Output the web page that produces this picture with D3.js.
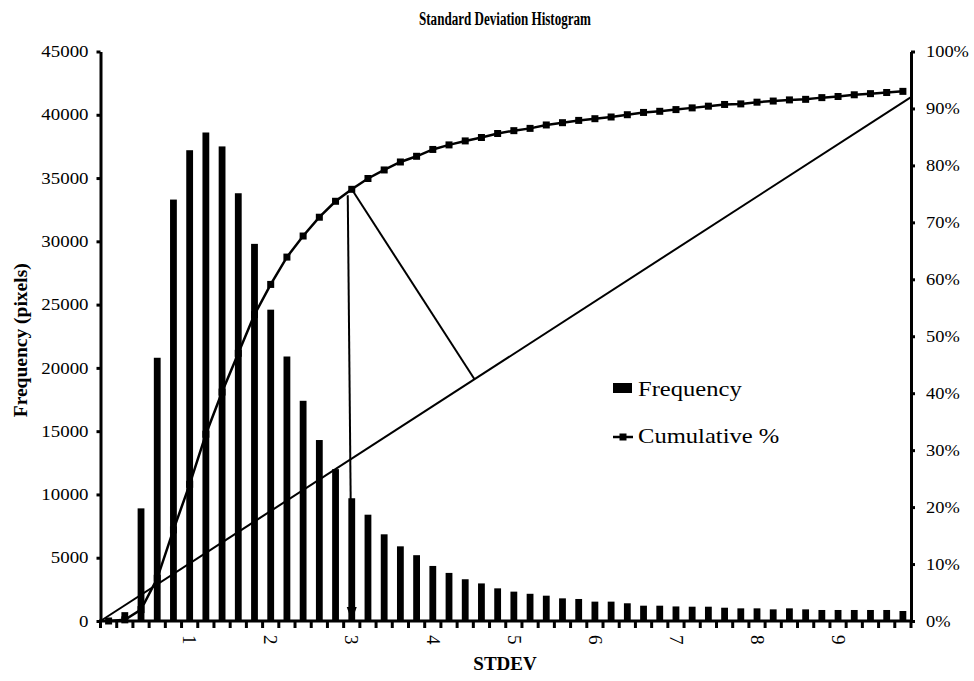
<!DOCTYPE html>
<html lang="en">
  <head>
    <meta charset="UTF-8" />
    <title>Standard Deviation Histogram</title>
    <script src="https://d3js.org/d3.v7.min.js"></script>
    <style>
      body {
        margin: 0;
        background: #fff;
      }
      svg text {
        font-family: "Liberation Serif", "Times New Roman", serif;
        fill: #000;
      }
    </style>
  </head>
  <body>
    <svg id="chart" width="974" height="681" font-family="Liberation Serif"></svg>
    <script>
      // histogram bins (STDEV), bar heights and cumulative %
      const bins = [
        0, 0.2, 0.4, 0.6, 0.8, 1, 1.2, 1.4, 1.6, 1.8,
        2, 2.2, 2.4, 2.6, 2.8, 3, 3.2, 3.4, 3.6, 3.8,
        4, 4.2, 4.4, 4.6, 4.8, 5, 5.2, 5.4, 5.6, 5.8,
        6, 6.2, 6.4, 6.6, 6.8, 7, 7.2, 7.4, 7.6, 7.8,
        8, 8.2, 8.4, 8.6, 8.8, 9, 9.2, 9.4, 9.6, 9.8
      ];
      const frequency = [
        0, 700, 8900, 20800, 33300, 37200, 38600, 37500, 33800, 29800,
        24600, 20900, 17400, 14300, 12000, 9700, 8400, 6850, 5900, 5200,
        4350, 3800, 3300, 2970, 2580, 2320, 2150, 2000, 1790, 1740,
        1530, 1530, 1400, 1210, 1210, 1150, 1130, 1130, 1050, 1000,
        1000, 920, 1000, 920, 870, 870, 870, 870, 870, 790
      ];
      const cumulative = [
        0, 0.2, 2.0, 7.5, 16.0, 24.0, 32.8, 40.2, 47.0, 53.8,
        59.1, 63.9, 67.6, 70.9, 73.7, 75.8, 77.7, 79.2, 80.6, 81.6,
        82.8, 83.6, 84.3, 84.9, 85.6, 86.1, 86.5, 87.1, 87.5, 87.9,
        88.2, 88.5, 88.9, 89.3, 89.5, 89.8, 90.1, 90.4, 90.7, 90.8,
        91.1, 91.3, 91.5, 91.6, 91.9, 92.1, 92.4, 92.6, 92.8, 93.0
      ];
      const xTickLabels = [1, 2, 3, 4, 5, 6, 7, 8, 9];
      const freqTicks = [0, 5000, 10000, 15000, 20000, 25000, 30000, 35000, 40000, 45000];
      const pctTicks = [0, 10, 20, 30, 40, 50, 60, 70, 80, 90, 100];

      // knee annotation: chord from origin to the right border, knee at STDEV 3
      const chordEndPct = 92;
      const kneeBin = 3;

      const plotLeft = 100.5, plotRight = 911, plotTop = 51.5, plotBottom = 621;
      const serif = "'Liberation Serif', 'Times New Roman', serif";

      const svg = d3.select("#chart");

      const x = d3.scaleBand()
        .domain(bins)
        .range([plotLeft, plotRight])
        .paddingInner(0.58)
        .paddingOuter(0.29);
      const yF = d3.scaleLinear().domain([0, 45000]).range([plotBottom, plotTop]);
      const yP = d3.scaleLinear().domain([0, 100]).range([plotBottom, plotTop]);
      const cx = d => x(d) + x.bandwidth() / 2;

      function stretch(sel, k) {
        sel.each(function() {
          const w = this.getComputedTextLength();
          d3.select(this)
            .attr("textLength", w * k)
            .attr("lengthAdjust", "spacingAndGlyphs");
        });
      }

      // title
      svg.append("text")
        .attr("x", 505)
        .attr("y", 25)
        .attr("text-anchor", "middle")
        .attr("font-family", serif)
        .attr("font-weight", "bold")
        .attr("font-size", 18)
        .attr("textLength", 172)
        .attr("lengthAdjust", "spacingAndGlyphs")
        .text("Standard Deviation Histogram");

      // bars
      svg.append("g")
        .selectAll("rect")
        .data(bins)
        .join("rect")
        .attr("x", d => x(d))
        .attr("width", x.bandwidth())
        .attr("y", (d, i) => yF(frequency[i]))
        .attr("height", (d, i) => plotBottom - yF(frequency[i]))
        .attr("fill", "#000");

      // annotation lines
      const ox = plotLeft, oy = yP(0);
      const ex = plotRight, ey = yP(chordEndPct);
      const ki = bins.indexOf(kneeBin);
      const kx = cx(kneeBin), ky = yP(cumulative[ki]);
      const dx = ex - ox, dy = ey - oy;
      const t = ((kx - ox) * dx + (ky - oy) * dy) / (dx * dx + dy * dy);
      const fx = ox + t * dx, fy = oy + t * dy;

      const ann = svg.append("g")
        .attr("stroke", "#000")
        .attr("stroke-width", 2)
        .attr("fill", "none");
      ann.append("line")
        .attr("x1", ox).attr("y1", oy)
        .attr("x2", ex).attr("y2", ey);
      ann.append("line")
        .attr("x1", kx).attr("y1", ky)
        .attr("x2", fx).attr("y2", fy);
      ann.append("line")
        .attr("x1", kx - 4).attr("y1", ky + 6)
        .attr("x2", kx).attr("y2", plotBottom - 10);
      svg.append("path")
        .attr("d", `M${kx - 5},${plotBottom - 14}L${kx + 5},${plotBottom - 14}L${kx},${plotBottom}Z`)
        .attr("fill", "#000");

      // cumulative line + markers
      const line = d3.line()
        .x((d, i) => cx(bins[i]))
        .y(d => yP(d));
      svg.append("path")
        .datum(cumulative)
        .attr("d", line)
        .attr("fill", "none")
        .attr("stroke", "#000")
        .attr("stroke-width", 2.5);
      svg.append("g")
        .selectAll("rect")
        .data(cumulative)
        .join("rect")
        .attr("x", (d, i) => cx(bins[i]) - 3.5)
        .attr("y", d => yP(d) - 3.5)
        .attr("width", 7)
        .attr("height", 7)
        .attr("fill", "#000");

      // left axis
      const gL = svg.append("g")
        .attr("transform", `translate(${plotLeft},0)`)
        .call(d3.axisLeft(yF).tickValues(freqTicks).tickFormat(d3.format("d"))
          .tickSize(4).tickSizeOuter(0).tickPadding(8));
      gL.attr("font-family", serif).attr("font-size", 16);
      gL.selectAll("path, line").attr("stroke", "#000").attr("stroke-width", 3);
      gL.selectAll("text").call(stretch, 1.18);

      // right axis
      const gR = svg.append("g")
        .attr("transform", `translate(${plotRight},0)`)
        .call(d3.axisRight(yP).tickValues(pctTicks).tickFormat(d => d + "%")
          .tickSize(4).tickSizeOuter(0).tickPadding(11));
      gR.attr("font-family", serif).attr("font-size", 16);
      gR.selectAll("path, line").attr("stroke", "#000").attr("stroke-width", 3);
      gR.selectAll("text").call(stretch, 1.15);

      // bottom axis: ticks between categories
      const gap = (x.step() - x.bandwidth()) / 2;
      const edges = bins.map(d => x(d) - gap).concat([plotRight]);
      const gB = svg.append("g").attr("font-family", serif);
      gB.append("line")
        .attr("x1", plotLeft - 1.5).attr("x2", plotRight + 1.5)
        .attr("y1", plotBottom).attr("y2", plotBottom)
        .attr("stroke", "#000").attr("stroke-width", 3);
      gB.selectAll(".tick")
        .data(edges)
        .join("line")
        .attr("class", "tick")
        .attr("x1", d => d).attr("x2", d => d)
        .attr("y1", plotBottom).attr("y2", plotBottom + 7)
        .attr("stroke", "#000").attr("stroke-width", 3);
      gB.selectAll(".lbl")
        .data(xTickLabels)
        .join("text")
        .attr("class", "lbl")
        .attr("font-size", 19)
        .attr("transform", d => `translate(${cx(d)},${plotBottom + 14}) rotate(90)`)
        .attr("dy", "0.33em")
        .text(d => d);

      // axis titles
      svg.append("text")
        .attr("transform", `translate(27,${(plotTop + plotBottom) / 2 + 4}) rotate(-90)`)
        .attr("text-anchor", "middle")
        .attr("font-family", serif)
        .attr("font-weight", "bold")
        .attr("font-size", 19.5)
        .text("Frequency (pixels)");
      svg.append("text")
        .attr("x", 505)
        .attr("y", 670)
        .attr("text-anchor", "middle")
        .attr("font-family", serif)
        .attr("font-weight", "bold")
        .attr("font-size", 19)
        .text("STDEV");

      // legend
      const lg = svg.append("g").attr("font-family", serif);
      lg.append("rect")
        .attr("x", 613).attr("y", 383)
        .attr("width", 19).attr("height", 10)
        .attr("fill", "#000");
      lg.append("text")
        .attr("x", 638).attr("y", 396)
        .attr("font-size", 21)
        .text("Frequency")
        .call(stretch, 1.17);
      lg.append("line")
        .attr("x1", 613).attr("x2", 633)
        .attr("y1", 437).attr("y2", 437)
        .attr("stroke", "#000").attr("stroke-width", 2.5);
      lg.append("rect")
        .attr("x", 619.5).attr("y", 433.5)
        .attr("width", 7).attr("height", 7)
        .attr("fill", "#000");
      lg.append("text")
        .attr("x", 638).attr("y", 443)
        .attr("font-size", 21)
        .text("Cumulative %")
        .call(stretch, 1.17);
    </script>
  </body>
</html>
